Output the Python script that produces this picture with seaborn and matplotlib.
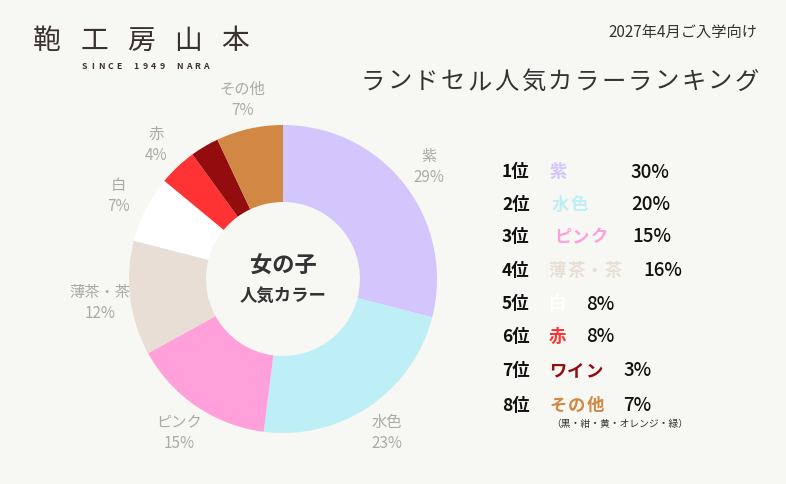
# ランドセル人気カラーランキング (女の子) - donut chart + ranking list

import matplotlib
matplotlib.use('Agg')
import matplotlib.pyplot as plt
import seaborn as sb

# pie data (clockwise from top)
colors_names = ['紫', '水色', 'ピンク', '薄茶・茶', '白', '赤', 'ワイン', 'その他']
shares = [29, 23, 15, 12, 7, 4, 3, 7]
slice_labels = ['紫\n29%', '水色\n23%', 'ピンク\n15%', '薄茶・茶\n12%', '白\n7%', '赤\n4%', '', 'その他\n7%']
slice_colors = ['#D3C6FC', '#BFEFF6', '#FFA0DA', '#E8DED6', '#FFFFFF', '#FF3333', '#930C0E', '#D08844']

# ranking list
rank_labels = ['1位', '2位', '3位', '4位', '5位', '6位', '7位', '8位']
rank_names = ['紫', '水色', 'ピンク', '薄茶・茶', '白', '赤', 'ワイン', 'その他']
rank_pcts = ['30%', '20%', '15%', '16%', '8%', '8%', '3%', '7%']
rank_colors = ['#D3C6FC', '#BFEFF6', '#FFA0DA', '#E8DED6', '#FFFFFF', '#FF3333', '#930C0E', '#D08844']
footnote = '（黒・紺・黄・オレンジ・緑）'

W, H = 786, 485
BG = '#F7F7F3'

sb.set_theme(style = 'white', rc = {'figure.facecolor': BG, 'axes.facecolor': BG})
plt.rcParams['font.family'] = ['Noto Sans CJK JP', 'DejaVu Sans']

fig = plt.figure(figsize = (W/100, H/100), dpi = 100)

def px(x, y):
    return x/W, 1 - y/H

def spaced(x0, y, s, pitch, **kw):
    # draw string char by char to get the letter spacing of the original
    for i, ch in enumerate(s):
        fig.text(*px(x0 + i*pitch, y), ch, ha = 'center', va = 'center', **kw)

# donut: centre (283,280) px, outer radius 154 px
cx, cy, R, half = 283, 280, 154, 200
ax = fig.add_axes([(cx-half)/W, (H-cy-half)/H, 2*half/W, 2*half/H])
ax.set_facecolor(BG)
wedges, texts = ax.pie(shares, labels = slice_labels, colors = sb.color_palette(slice_colors),
                       startangle = 90, counterclock = False, radius = 1,
                       labeldistance = 1.2,
                       wedgeprops = dict(width = 0.5, linewidth = 0, edgecolor = 'none'),
                       textprops = dict(color = '#AAAAAA', fontsize = 11, linespacing = 1.3))
for t in texts:
    t.set_ha('center')
    t.set_va('center')
lim = half/R
ax.set_xlim(-lim, lim)
ax.set_ylim(-lim, lim)
ax.axis('off')

ax.text(0, 0.09, '女の子', ha = 'center', va = 'center', fontsize = 16, fontweight = 'bold', color = '#333333')
ax.text(0, -0.11, '人気カラー', ha = 'center', va = 'center', fontsize = 12.5, fontweight = 'bold', color = '#333333')

# logo + titles
spaced(47, 41, '鞄工房山本', 47, fontsize = 20, color = '#3A3230')
spaced(84, 67, 'SINCE 1949 NARA', 8.7, fontsize = 6.3, fontweight = 'bold', color = '#3A3230')
fig.text(*px(757, 33), '2027年4月ご入学向け', ha = 'right', va = 'center', fontsize = 11, color = '#333333')
spaced(373, 82, 'ランドセル人気カラーランキング', 26.7, fontsize = 17.5, color = '#333333')

# ranking list
row_y = [172, 205, 237, 271, 304, 337, 371, 406]
name_x = [550, 552, 554, 549, 549, 549, 549, 550]
pct_x = [630, 631, 632, 643, 586, 586, 623, 623]
for i in range(len(rank_labels)):
    fig.text(*px(502, row_y[i]), rank_labels[i], ha = 'left', va = 'center', fontsize = 12.5, fontweight = 'bold', color = '#111111')
    spaced(name_x[i] + 8.5, row_y[i], rank_names[i], 18.5, fontsize = 12.5, fontweight = 'bold', color = rank_colors[i])
    fig.text(*px(pct_x[i], row_y[i]), rank_pcts[i], ha = 'left', va = 'center', fontsize = 13.5, fontweight = 'medium', color = '#111111')
fig.text(*px(551, 424), footnote, ha = 'left', va = 'center', fontsize = 7, color = '#333333')

plt.savefig('out.png', dpi = 100, facecolor = BG)
